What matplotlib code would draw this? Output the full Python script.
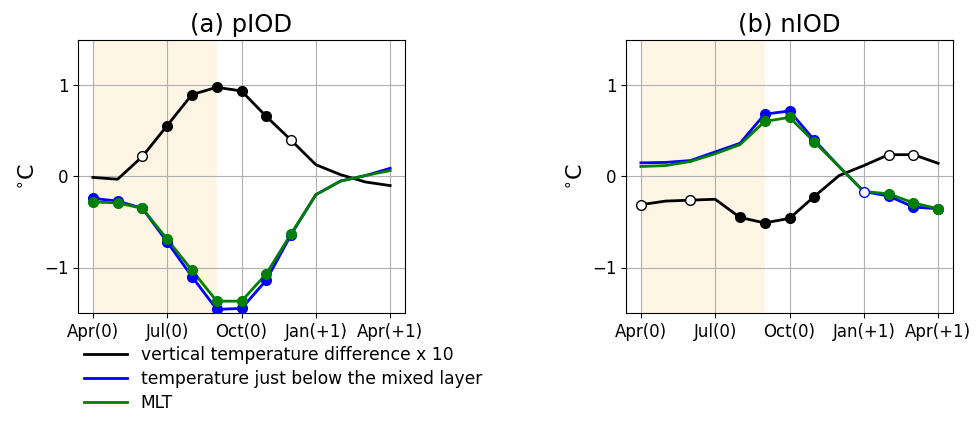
import numpy as np
import matplotlib
matplotlib.use('Agg')
import matplotlib.pyplot as plt

months = np.arange(13)
tick_pos = [0, 3, 6, 9, 12]
tick_labels = ['Apr(0)', 'Jul(0)', 'Oct(0)', 'Jan(+1)', 'Apr(+1)']
titles = ['(a) pIOD', '(b) nIOD']
names = ['vertical temperature difference x 10',
         'temperature just below the mixed layer',
         'MLT']
colors = ['black', 'blue', 'green']

# pIOD composites
p_dt = [-0.01, -0.03, 0.22, 0.56, 0.90, 0.98, 0.94, 0.66, 0.40, 0.13, 0.02, -0.06, -0.10]
p_tb = [-0.24, -0.27, -0.35, -0.72, -1.10, -1.46, -1.45, -1.14, -0.64, -0.20, -0.05, 0.01, 0.09]
p_mlt = [-0.28, -0.29, -0.35, -0.69, -1.03, -1.37, -1.37, -1.07, -0.63, -0.20, -0.05, 0.01, 0.065]
# significance: 'f' filled (95%), 'o' open (90%), '' none
p_dt_sig = ['', '', 'o', 'f', 'f', 'f', 'f', 'f', 'o', '', '', '', '']
p_tb_sig = ['f', 'f', 'f', 'f', 'f', 'f', 'f', 'f', 'f', '', '', '', '']
p_mlt_sig = ['f', 'f', 'f', 'f', 'f', 'f', 'f', 'f', 'f', '', '', '', '']

# nIOD composites
n_dt = [-0.31, -0.27, -0.26, -0.25, -0.45, -0.51, -0.46, -0.22, 0.01, 0.12, 0.24, 0.24, 0.145]
n_tb = [0.15, 0.155, 0.175, 0.27, 0.365, 0.685, 0.72, 0.40, 0.11, -0.165, -0.215, -0.335, -0.355]
n_mlt = [0.11, 0.12, 0.165, 0.25, 0.35, 0.605, 0.65, 0.38, 0.11, -0.165, -0.19, -0.29, -0.355]
n_dt_sig = ['o', '', 'o', '', 'f', 'f', 'f', 'f', '', '', 'o', 'o', '']
n_tb_sig = ['', '', '', '', '', 'f', 'f', 'f', '', 'o', 'f', 'f', 'f']
n_mlt_sig = ['', '', '', '', '', 'f', 'f', 'f', '', '', 'f', 'f', 'f']

panels = [
    [(p_dt, p_dt_sig), (p_tb, p_tb_sig), (p_mlt, p_mlt_sig)],
    [(n_dt, n_dt_sig), (n_tb, n_tb_sig), (n_mlt, n_mlt_sig)],
]

fig = plt.figure(figsize=(9.77, 4.26), dpi=100)
ax1 = fig.add_axes([78 / 977, 1 - 313 / 426, 327 / 977, 273 / 426])
ax2 = fig.add_axes([626 / 977, 1 - 313 / 426, 327 / 977, 273 / 426])

handles = []
for ax, title, series in zip([ax1, ax2], titles, panels):
    ax.axvspan(0, 5, color='orange', alpha=0.1, lw=0, zorder=0)
    for (vals, sig), c, name in zip(series, colors, names):
        vals = np.array(vals)
        h, = ax.plot(months, vals, color=c, lw=2, label=name, zorder=2)
        if ax is ax1:
            handles.append(h)
        filled = np.array([s == 'f' for s in sig])
        hollow = np.array([s == 'o' for s in sig])
        ax.plot(months[filled], vals[filled], 'o', color=c, ms=7, zorder=3)
        ax.plot(months[hollow], vals[hollow], 'o', mfc='white', mec=c, ms=7, zorder=3)
    ax.set_xticks(tick_pos)
    ax.set_xticklabels(tick_labels, fontsize=12)
    ax.set_ylim(-1.5, 1.5)
    ax.set_yticks([-1, 0, 1])
    ax.tick_params(axis='y', labelsize=12)
    ax.grid(True)
    ax.set_title(title, fontsize=17.5)
    ax.set_ylabel('$^{\\circ}$C', fontsize=16)

fig.legend(handles=handles, loc='upper left', bbox_to_anchor=(69 / 977, 1 - 331 / 426),
           frameon=False, fontsize=12.3, handlelength=2.5, labelspacing=0.35)

fig.savefig('out.png', dpi=100)
